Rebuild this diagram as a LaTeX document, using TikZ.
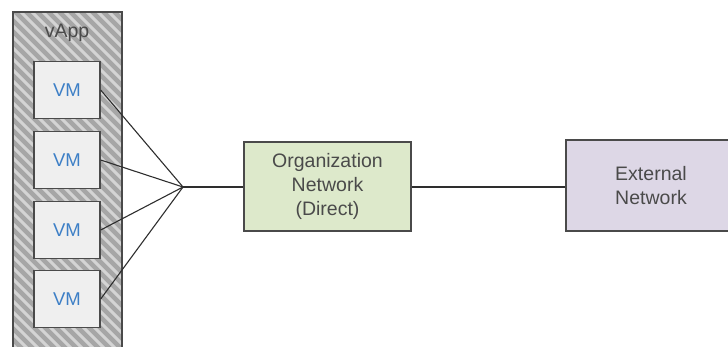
\documentclass[tikz,border=0pt]{standalone}
\usepackage{fontspec}
\setmainfont{Liberation Sans}
\definecolor{hatchbg}{HTML}{A6A6A6}
\definecolor{hatchline}{HTML}{D4D4D4}
\definecolor{boxedge}{HTML}{4A4A4A}
\definecolor{vmfill}{HTML}{EFEFEF}
\definecolor{vmtext}{HTML}{3D7FC6}
\definecolor{orgfill}{HTML}{DDE9CB}
\definecolor{extfill}{HTML}{DDD7E6}
\definecolor{labeltext}{HTML}{4A4A4A}
\definecolor{wire}{HTML}{2E2E2E}
\tikzset{
  vmbox/.style={draw=boxedge, line width=1.4pt, fill=vmfill, minimum width=66pt, minimum height=57pt,
    inner sep=0pt, text=vmtext, font=\fontsize{18.5}{22}\selectfont},
  netbox/.style={draw=boxedge, line width=1.4pt, inner sep=0pt, text=labeltext,
    align=center, font=\fontsize{19.5}{24}\selectfont},
  wire/.style={draw=wire, line width=1.1pt}
}
\begin{document}
\begin{tikzpicture}[x=1pt, y=-1pt]
\useasboundingbox (0,0) rectangle (728,346);
\clip (0,0) rectangle (728,346);
% vApp container with diagonal hatching
\fill[hatchbg] (13,12) rectangle (122,360);
\begin{scope}
  \clip (13,12) rectangle (122,360);
  \foreach \a in {-420,-409,...,130}
    \draw[hatchline, line width=3pt] (\a,0) -- ++(420,420);
\end{scope}
\draw[boxedge, line width=1.4pt] (13,360) -- (13,12) -- (122,12) -- (122,360);
\node[text=labeltext, font=\fontsize{19.5}{22}\selectfont] (vapp) at (67,33) {vApp};
% virtual machines
\node[vmbox] (vm1) at (67,90) {VM};
\node[vmbox] (vm2) at (67,160) {VM};
\node[vmbox] (vm3) at (67,230) {VM};
\node[vmbox] (vm4) at (67,299) {VM};
% networks
\node[netbox, fill=orgfill, minimum width=167pt, minimum height=89pt] (org) at (327.5,186.5)
  {Organization\\Network\\(Direct)};
\node[netbox, fill=extfill, minimum width=176pt, minimum height=91pt] (ext) at (654,185.5) {};
\node[text=labeltext, align=center, font=\fontsize{19.5}{24}\selectfont] (extlabel) at (651,186)
  {External\\Network};
% connections
\coordinate (hub) at (183,187);
\foreach \v in {vm1,vm2,vm3,vm4}
  \draw[wire] (\v.east) -- (hub);
\draw[wire] (hub) -- (org.west |- hub);
\draw[wire] (org.east |- hub) -- (ext.west |- hub);
\end{tikzpicture}
\end{document}
